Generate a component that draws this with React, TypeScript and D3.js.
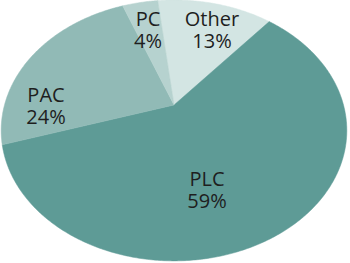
import React from "react";
import * as d3 from "d3";

const categories = ["Other", "PLC", "PAC", "PC"];
const values = [13, 59, 24, 4];
const colors = ["#d3e5e3", "#5e9b96", "#91bab6", "#b6d2cf"];

// layout (not data)
const W = 350;
const H = 263;
const CX = 174;
const CY = 105;
const A = 169.5;
const B = 125.5;
const K = 0.195;
const START = -0.115;
const labelPos: Record<string, [number, number]> = {
  Other: [212, 26],
  PLC: [207, 186],
  PAC: [46, 102],
  PC: [148, 26],
};

function project(theta: number, t = 1): [number, number] {
  const u = Math.sin(theta) * t;
  const w = Math.cos(theta) * t;
  const d = 1 + K * w;
  return [CX + (A * u) / d, CY - (B * w) / d];
}

export default function App() {
  const pie = d3
    .pie<number>()
    .sort(null)
    .startAngle(START)
    .endAngle(START + 2 * Math.PI)
    .value((d) => d);
  const arcs = pie(values);
  const line = d3.line();

  return (
    <svg
      width={W}
      height={H}
      style={{ position: "absolute", left: 0, top: 0, background: "#fff" }}
    >
      {arcs.map((a, i) => {
        const n = Math.max(4, Math.ceil((a.endAngle - a.startAngle) / 0.01));
        const pts: [number, number][] = [[CX, CY]];
        for (let j = 0; j <= n; j++) {
          const th = a.startAngle + ((a.endAngle - a.startAngle) * j) / n;
          pts.push(project(th));
        }
        return (
          <path
            key={categories[i]}
            d={line(pts) + "Z"}
            fill={colors[i]}
            stroke={colors[i]}
            strokeWidth={0.5}
          />
        );
      })}
      {categories.map((c, i) => {
        const [x, y] = labelPos[c];
        return (
          <text
            key={c}
            x={x}
            y={y}
            textAnchor="middle"
            fontFamily="'Open Sans', sans-serif"
            fontSize={20}
            fill="#1e1e1e"
          >
            <tspan x={x}>{c}</tspan>
            <tspan x={x} dy={22}>
              {values[i]}%
            </tspan>
          </text>
        );
      })}
    </svg>
  );
}
